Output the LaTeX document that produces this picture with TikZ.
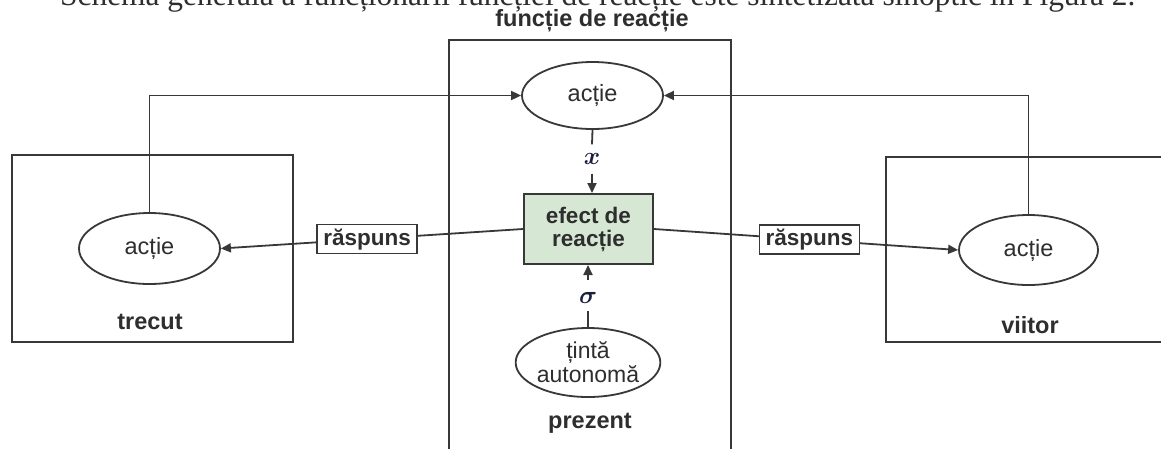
\documentclass[tikz,border=0pt]{standalone}
\usepackage{amsmath}
\usepackage{fontspec}
\setmainfont{Liberation Sans}
\newfontfamily\serfont{Liberation Serif}
\usetikzlibrary{arrows.meta,shapes.geometric}
\definecolor{ln}{HTML}{383838}
\definecolor{tx}{HTML}{2E2E2E}
\definecolor{gr}{HTML}{D6E8D4}
\definecolor{mathc}{HTML}{1A1F3F}
\begin{document}
\begin{tikzpicture}[x=1pt,y=-1pt,
  font=\fontsize{23.5}{24}\selectfont, text=tx,
  frame/.style={draw=ln, line width=2.2pt},
  ell/.style={draw=ln, ellipse, line width=1.8pt, inner sep=0pt, align=center, fill=white},
  lbl/.style={font=\fontsize{23.5}{25}\selectfont\bfseries},
  resp/.style={draw=ln, fill=white, line width=1.5pt, minimum width=100pt, minimum height=29pt, inner sep=0pt, font=\fontsize{22.5}{24}\selectfont\bfseries},
  conn/.style={draw=ln, line width=1.8pt},
  arr/.style={conn, -{Triangle[length=10pt,width=9pt]}},
  var/.style={text=mathc, inner sep=0pt, font=\fontsize{28}{30}\selectfont}]
\useasboundingbox (0,0) rectangle (1161,448);
\fill[white] (0,0) rectangle (1161,448);

% caption text cut at the top
\node[anchor=base west, inner sep=0pt] (cap) at (60,5)
  {\resizebox{1075pt}{!}{\serfont Schema generală a funcționării funcției de reacție este sintetizată sinoptic în Figura 2.}};

% frames
\draw[frame] (12,155) rectangle (293,342);
\draw[frame] (886,157) rectangle (1180,342);
\draw[frame] (449,40) rectangle (731,470);

% frame labels
\node[lbl] (ftitle) at (592,21) {funcție de reacție};
\node[lbl] (trecut) at (150,322) {trecut};
\node[lbl] (viitor) at (1030,325) {viitor};
\node[lbl] (prezent) at (590,423) {prezent};

% nodes
\node[ell, minimum width=141pt, minimum height=67pt] (tA) at (592.5,95.5) {acție};
\node[ell, minimum width=141pt, minimum height=71pt] (pA) at (149.5,248.5) {acție};
\node[ell, minimum width=139pt, minimum height=70pt] (fA) at (1028.5,250) {acție};
\node[ell, minimum width=140pt, minimum height=69pt, font=\fontsize{23}{24}\selectfont] (tinta) at (588,362.5) {țintă\\autonomă};
\node[draw=ln, line width=2pt, fill=gr, minimum width=129pt, minimum height=70pt,
      inner sep=0pt, align=center, font=\fontsize{22.5}{23}\selectfont\bfseries] (ef) at (588.5,229) {efect de\\reacție};

\node[var] (vx) at (592,159) {$\boldsymbol{x}$};
\node[var] (vs) at (588,298) {$\boldsymbol{\sigma}$};

% connectors
\draw[conn] (tA.south) -- ([yshift=9pt]vx.north);
\draw[arr] ([yshift=-9pt]vx.south) -- (vx.south |- ef.north);
\draw[conn] (tinta.north) -- ([yshift=-7pt]vs.south);
\draw[arr] ([yshift=12pt]vs.north) -- (vs.north |- ef.south);

\draw[arr] (pA.north) |- (tA.west);
\draw[arr] (fA.north) |- (tA.east);

\draw[arr] (ef.west) -- (pA.east) node[resp, pos=0.516] (r1) {răspuns};
\draw[arr] (ef.east) -- (fA.west) node[resp, pos=0.511] (r2) {răspuns};
\end{tikzpicture}
\end{document}
